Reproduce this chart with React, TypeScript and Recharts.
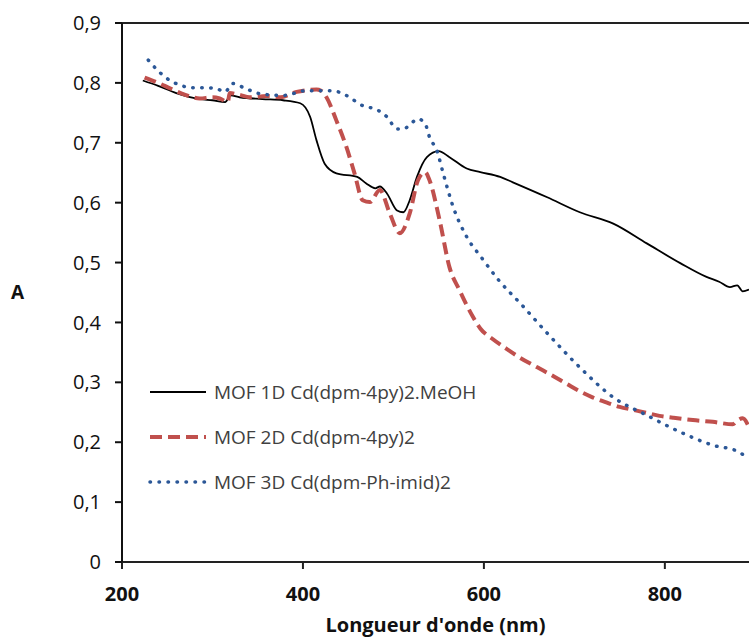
import { LineChart, Line, XAxis, YAxis, Legend, ReferenceLine } from 'recharts'

// wavelength (nm) / absorbance
const mof1dX = [223, 240, 260, 286, 300, 314, 320, 330, 355, 378, 397, 408, 415, 424, 437, 460, 470, 480, 485, 493, 504, 511, 518, 526, 537, 550, 562, 581, 596, 618, 632, 670, 706, 743, 780, 817, 846, 860, 872, 880, 886, 893]
const mof1dY = [0.804, 0.795, 0.783, 0.773, 0.771, 0.768, 0.779, 0.776, 0.773, 0.771, 0.766, 0.743, 0.704, 0.665, 0.649, 0.643, 0.632, 0.624, 0.627, 0.615, 0.587, 0.584, 0.604, 0.643, 0.676, 0.686, 0.676, 0.657, 0.651, 0.643, 0.634, 0.609, 0.584, 0.565, 0.532, 0.499, 0.476, 0.468, 0.459, 0.462, 0.452, 0.455]

const mof2dX = [225, 240, 253, 270, 286, 300, 308, 317, 319, 330, 341, 360, 375, 393, 405, 415, 420, 426, 437, 448, 457, 466, 474, 485, 496, 507, 518, 527, 535, 540, 551, 562, 573, 588, 596, 610, 625, 640, 659, 676, 692, 706, 720, 736, 750, 765, 780, 794, 809, 831, 853, 875, 880, 886, 893]
const mof2dY = [0.809, 0.8, 0.791, 0.78, 0.774, 0.776, 0.774, 0.768, 0.783, 0.78, 0.776, 0.778, 0.776, 0.785, 0.788, 0.789, 0.787, 0.776, 0.737, 0.693, 0.649, 0.604, 0.601, 0.621, 0.582, 0.549, 0.582, 0.637, 0.651, 0.637, 0.571, 0.492, 0.454, 0.409, 0.39, 0.372, 0.356, 0.341, 0.325, 0.311, 0.297, 0.285, 0.275, 0.266, 0.259, 0.254, 0.249, 0.244, 0.241, 0.237, 0.234, 0.23, 0.236, 0.24, 0.225]

const mof3dX = [229, 240, 253, 265, 275, 290, 303, 314, 322, 336, 352, 378, 404, 432, 448, 466, 482, 493, 504, 511, 520, 527, 535, 540, 548, 555, 566, 581, 598, 615, 642, 670, 706, 743, 780, 817, 853, 880, 893]
const mof3dY = [0.838, 0.82, 0.804, 0.796, 0.792, 0.792, 0.791, 0.785, 0.799, 0.791, 0.782, 0.779, 0.787, 0.787, 0.779, 0.762, 0.755, 0.743, 0.723, 0.723, 0.733, 0.74, 0.732, 0.709, 0.687, 0.649, 0.593, 0.543, 0.507, 0.473, 0.429, 0.382, 0.325, 0.275, 0.245, 0.217, 0.195, 0.185, 0.172]

const xTicks = [200, 400, 600, 800]
const yTicks = [0, 0.1, 0.2, 0.3, 0.4, 0.5, 0.6, 0.7, 0.8, 0.9]

const FONT = '"Open Sans", sans-serif'

function toPoints(xs: number[], ys: number[]) {
  return xs.map((x, i) => ({ x, y: ys[i] }))
}

const series = [
  { name: 'MOF 1D Cd(dpm-4py)2.MeOH', data: toPoints(mof1dX, mof1dY), color: '#000000', width: 1.8, dash: undefined, cap: 'butt' },
  { name: 'MOF 2D Cd(dpm-4py)2', data: toPoints(mof2dX, mof2dY), color: '#C0504D', width: 4, dash: '12 6', cap: 'butt' },
  { name: 'MOF 3D Cd(dpm-Ph-imid)2', data: toPoints(mof3dX, mof3dY), color: '#2B5797', width: 3.5, dash: '0.5 8.5', cap: 'round' },
]

function LegendBox() {
  return (
    <div style={{ fontFamily: FONT }}>
      {series.map((s) => (
        <div key={s.name} style={{ display: 'flex', alignItems: 'center', height: '45px' }}>
          <svg width={60} height={10} style={{ marginRight: '6px' }}>
            <line x1={2} y1={5} x2={58} y2={5} stroke={s.color} strokeWidth={s.width} strokeDasharray={s.dash} strokeLinecap={s.cap as any} />
          </svg>
          <span style={{ color: '#404040', fontSize: '19px', whiteSpace: 'nowrap' }}>{s.name}</span>
        </div>
      ))}
    </div>
  )
}

export default function App() {
  return (
    <div style={{ position: 'absolute', left: 0, top: 0, background: '#ffffff' }}>
      <LineChart width={749} height={640} margin={{ top: 23, right: 0, left: 0, bottom: 0 }}>
        <XAxis
          type="number"
          dataKey="x"
          domain={[200, 893]}
          ticks={xTicks}
          allowDataOverflow
          height={78}
          stroke="#222222"
          strokeWidth={2}
          tickSize={7}
          tickMargin={18}
          tick={{ fill: '#111111', fontFamily: FONT, fontSize: 20, fontWeight: 700 }}
          label={{ value: "Longueur d'onde (nm)", position: 'insideBottom', offset: 8, fill: '#111111', fontFamily: FONT, fontSize: 20, fontWeight: 700 }}
        />
        <YAxis
          type="number"
          domain={[0, 0.9]}
          ticks={yTicks}
          width={122}
          stroke="#111111"
          strokeWidth={2}
          tickSize={7}
          tickMargin={14}
          tickFormatter={(v: number) => (v === 0 ? '0' : v.toFixed(1).replace('.', ','))}
          tick={{ fill: '#111111', fontFamily: FONT, fontSize: 20 }}
          label={{ value: 'A', position: 'insideLeft', offset: 11, fill: '#111111', fontFamily: FONT, fontSize: 19, fontWeight: 700 }}
        />
        <ReferenceLine y={0.9} stroke="#222222" strokeWidth={2} />
        {series.map((s) => (
          <Line
            key={s.name}
            data={s.data}
            dataKey="y"
            name={s.name}
            type="monotone"
            stroke={s.color}
            strokeWidth={s.width}
            strokeDasharray={s.dash}
            strokeLinecap={s.cap as any}
            dot={false}
            activeDot={false}
            isAnimationActive={false}
          />
        ))}
        <Legend
          layout="vertical"
          align="center"
          verticalAlign="middle"
          content={() => <LegendBox />}
          wrapperStyle={{ position: 'absolute', left: 148, top: 369, width: 380 }}
        />
      </LineChart>
    </div>
  )
}
